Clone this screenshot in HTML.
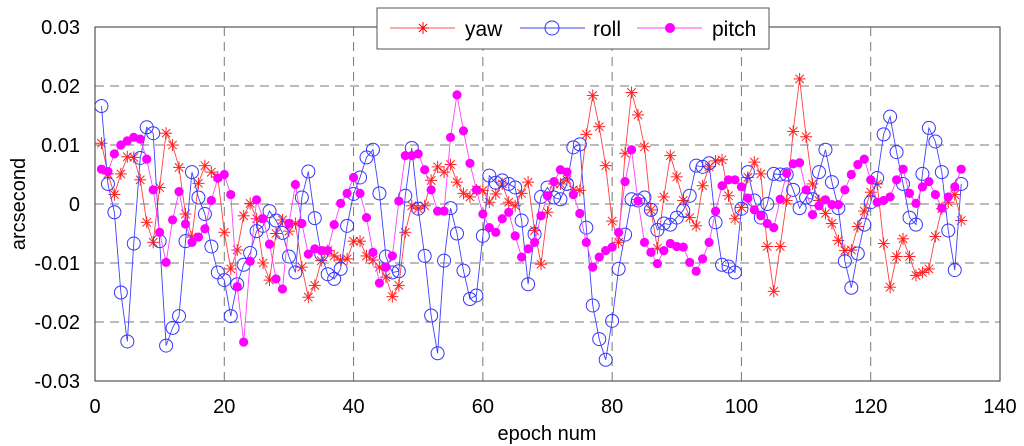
<!DOCTYPE html>
<html><head><meta charset="utf-8"><style>
html,body{margin:0;padding:0;background:#fff;}
svg{display:block;font-family:"Liberation Sans",Arial,sans-serif;}
</style></head><body>
<svg id="chart" width="1024" height="446" viewBox="0 0 1024 446">
<rect x="0" y="0" width="1024" height="446" fill="#fff"/>
<g id="grid"></g>
<g id="series"></g>
<rect x="95" y="27" width="905" height="354" fill="none" stroke="#555" stroke-width="1.2"/>
<g id="ticks"></g>
<text x="547" y="440" font-size="20" text-anchor="middle">epoch num</text>
<text transform="translate(25,204) rotate(-90)" font-size="20" text-anchor="middle">arcsecond</text>
<g>
<rect x="377" y="8" width="392" height="41" fill="#fff" stroke="#555" stroke-width="1"/>
<g>
<line x1="390" y1="28" x2="455" y2="28" stroke="#ff5050" stroke-width="1"/>
<g stroke="#f00" stroke-width="1"><line x1="417" y1="28" x2="429" y2="28"/><line x1="423" y1="22" x2="423" y2="34"/><line x1="419" y1="24" x2="427" y2="32"/><line x1="427" y1="24" x2="419" y2="32"/></g>
<text x="465" y="36" font-size="21">yaw</text></g>
<g>
<line x1="520" y1="28" x2="585" y2="28" stroke="#4040ff" stroke-width="1"/>
<circle cx="552" cy="28" r="7" fill="none" stroke="#3030ff" stroke-width="1"/>
<text x="593" y="36" font-size="21">roll</text></g>
<g>
<line x1="637" y1="28" x2="702" y2="28" stroke="#ff40ff" stroke-width="1"/>
<circle cx="670" cy="28" r="5" fill="#f0f"/>
<text x="712" y="36" font-size="21">pitch</text></g>
</g>
</svg>
<script>
const yaw=[10.3,5.1,1.6,5.1,8,7.9,4.1,-3.1,-6.5,2.8,12,10,6.2,-1.7,-5.6,3.5,6.5,5.4,4.6,-4.8,-11,-7.8,-2,0.1,-2.5,-10,-12.9,-5,-2.7,-4.6,-3.3,-10.7,-15.8,-13.8,-9.6,-7.9,-8.8,-9.5,-9.3,-6.3,-6.3,-8.8,-9.5,-10.7,-12.4,-15.7,-13.8,-4.8,-0.3,-0.8,-0.3,4,6.3,5.4,6.7,3.7,1.8,1.2,2.4,2.3,0.3,1.7,3.4,0.3,-0.3,1.8,3.7,-4.5,-10.2,-1.4,3.4,3.4,4.1,2.4,2.3,11.8,18.4,13.1,6.5,-2.9,-6.5,8.6,18.9,15.1,9.7,-1,-7.5,1.2,8.2,4.6,0.6,-2.3,-3.7,3.1,6.3,7.3,7.5,1.4,-2.5,-0.6,4.5,7.1,5.1,-7.2,-14.8,-7.2,0.6,12.3,21.2,11.4,3.4,0.6,-1.6,-3.3,-6.2,-7.9,-7.8,-3.8,-1.2,2,3.4,-6.7,-14.1,-8.9,-5.9,-8.9,-12.1,-11.6,-11,-5.5,-0.8,0.3,1.6,-2.8];
const roll=[16.6,3.4,-1.4,-15,-23.3,-6.7,7.8,13,12,-6.3,-24,-21,-19,-6.3,5.4,1.1,-1.7,-7.2,-11.6,-12.9,-19,-13.6,-10.3,-8.3,-4.6,-3.7,-1.2,-2.8,-4.9,-8.9,-11.6,1.1,5.5,-2.4,-8.5,-11.9,-12.7,-11,-3.7,1.7,4.5,7.9,9.2,1.8,-8.9,-11.6,-11.4,1.4,9.5,-0.8,-8.8,-18.9,-25.3,-9.6,-0.7,-5,-11.3,-16.1,-15.5,-5.4,4.8,3.6,4,3.4,2.8,-2.8,-13.6,-5.1,1.2,2.8,1.1,0.8,3.4,9.6,10.1,-4,-17.2,-22.9,-26.4,-19.8,-11,-5.2,0.8,0.6,1.1,-1,-4.4,-3.3,-3.5,-2.3,-1.1,1.4,6.5,6.3,6.9,-3.1,-10.3,-10.6,-11.6,-0.8,5.4,0.6,-2.3,0,5.1,5,5,2.4,-0.7,1.1,0.8,5.4,9.2,3.7,-0.7,-9.7,-14.2,-8.4,-3.5,0.3,4.4,11.8,14.8,8.8,3.4,-2.3,-3.5,5.1,12.9,10.6,5.4,-4.5,-11.2,3.4];
const pitch=[5.9,5.5,8.5,10,10.7,11.3,11,7.6,2.4,-4.8,-9.9,-2.7,2.1,-3.4,-6.5,-5.6,-4.2,0.6,4.4,5,1.6,-14,-23.4,-9.7,0.7,-2.5,-6.8,-12.7,-14.4,-3.3,3.3,-3.3,-8.5,-7.6,-7.9,-7.9,-3.5,0.1,1.8,4.5,1.8,-2.3,-8.2,-13.4,-10.7,-8.8,0.5,8.2,8.2,8.5,5.8,2.4,-1.2,-1.2,11.3,18.5,12.4,6.9,2.4,-1.7,-4,-4.8,-2.5,-1.4,-5.4,-9,-7.6,-6.5,-2,1.4,3.8,5.8,5.4,1.6,-1.6,-6.5,-10.7,-9,-7.9,-7.3,-4.8,3.8,9.2,0.5,-6.5,-8.2,-10.1,-7.9,-6.7,-7.2,-7.3,-9.9,-11.4,-9.3,-6.5,-1.2,3.1,4.1,4.1,2.9,1,-1,-2,-3.3,-4,0.8,5.2,6.8,7,2.4,-1.8,-0.3,0.7,-0.1,-0.1,2.4,5,6.7,7.6,4.1,0.3,0.6,1.2,4.1,5.9,1.8,0.1,2.9,3.8,1.6,-0.7,1.2,2.9,5.9];
const xTicks=[0,20,40,60,80,100,120,140];
const yTicks=[-0.03,-0.02,-0.01,0,0.01,0.02,0.03];
const yTickLabels=["-0.03","-0.02","-0.01","0","0.01","0.02","0.03"];
const X0=95,X1=1000,Y0=381,Y1=27;
function sx(v){return X0+(v-0)/(140-0)*(X1-X0);}
function sy(v){return Y0-(v+0.03)/0.06*(Y0-Y1);}
const NS='http://www.w3.org/2000/svg';
function mk(t,a,p){const e=document.createElementNS(NS,t);for(const k in a)e.setAttribute(k,a[k]);p.appendChild(e);return e;}
const grid=document.getElementById('grid'),ticks=document.getElementById('ticks'),ser=document.getElementById('series');
xTicks.forEach((t,i)=>{const x=sx(t);
 if(i>0&&i<xTicks.length-1){const g=mk('line',{x1:x,y1:Y1,x2:x,y2:Y0,stroke:'#777','stroke-width':1,'stroke-dasharray':'9,6'},grid);
 
 }
 const l=mk('text',{x:x,y:413,'font-size':20,'text-anchor':'middle'},ticks);l.textContent=t;
 
 });
yTicks.forEach((t,i)=>{const y=sy(t);
 if(i>0&&i<yTicks.length-1){const g=mk('line',{x1:X0,y1:y,x2:X1,y2:y,stroke:'#777','stroke-width':1,'stroke-dasharray':'9,6'},grid);
 
 }
 const l=mk('text',{x:80,y:y+7,'font-size':20,'text-anchor':'end'},ticks);l.textContent=yTickLabels[i];
 
 });
function draw(arr,name,lc){const g=mk('g',{},ser);
 
 
 const pts=arr.map((v,i)=>sx(i+1)+','+sy(v/1000)).join(' ');
 const pl=mk('polyline',{points:pts,fill:'none',stroke:lc,'stroke-width':0.9},g);
 
 
 arr.forEach((v,i)=>{const x=sx(i+1),y=sy(v/1000);let m;
  if(name==='yaw'){m=mk('g',{stroke:'#f22','stroke-width':1},g);
   mk('line',{x1:x-6,y1:y,x2:x+6,y2:y},m);mk('line',{x1:x,y1:y-6,x2:x,y2:y+6},m);
   mk('line',{x1:x-4.2,y1:y-4.2,x2:x+4.2,y2:y+4.2},m);mk('line',{x1:x+4.2,y1:y-4.2,x2:x-4.2,y2:y+4.2},m);}
  else if(name==='roll'){m=mk('circle',{cx:x,cy:y,r:6.5,fill:'none',stroke:'#3535ff','stroke-width':1},g);}
  else{m=mk('circle',{cx:x,cy:y,r:4.6,fill:'#f0f'},g);}
  
  });}
draw(yaw,'yaw','#ff4040');
draw(roll,'roll','#4040ff');
draw(pitch,'pitch','#ff40ff');
</script>
</body></html>
